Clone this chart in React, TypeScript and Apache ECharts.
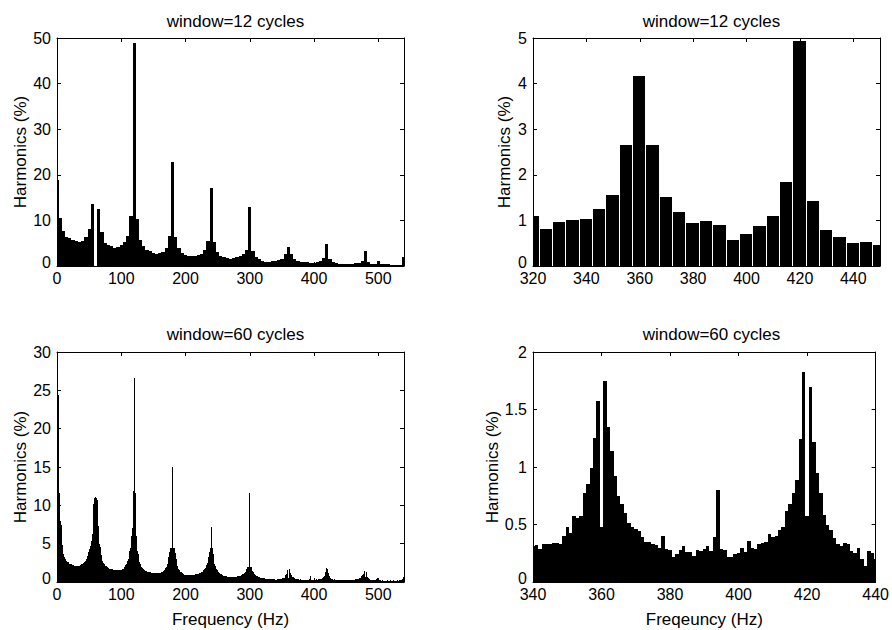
import React, { useEffect, useRef } from "react";
import * as echarts from "echarts";

// ---------- data (harmonic spectra, % of fundamental) ----------
// window = 12 cycles: 5 Hz bins, 0..540 Hz
const TOP_STEP_HZ = 5;
const TOP_HARMONICS = [
  18.8, 10.6, 7.7, 6.4, 6.1, 5.8, 5.4, 5.2, 5.5, 6.4,
  8.2, 13.5, 0, 12.6, 7.4, 5.0, 4.6, 4.3, 4.0, 4.1,
  4.6, 5.3, 6.5, 11.0, 48.9, 10.4, 5.8, 4.3, 3.5, 3.2,
  2.8, 2.6, 2.8, 3.1, 4.0, 6.6, 22.8, 6.4, 4.0, 2.9,
  2.4, 2.2, 2.2, 2.3, 2.5, 2.7, 3.5, 5.4, 17.0, 5.2,
  3.1, 2.3, 1.9, 1.7, 1.6, 1.7, 1.9, 2.2, 2.7, 3.4,
  12.9, 3.2, 2.0, 1.5, 1.09, 0.82, 0.97, 1.0, 1.03, 1.26,
  1.56, 2.66, 4.16, 2.66, 1.51, 1.18, 0.94, 0.98, 0.91, 0.57,
  0.71, 0.88, 1.09, 1.84, 4.93, 1.43, 0.8, 0.63, 0.5, 0.53,
  0.45, 0.45, 0.5, 0.55, 0.7, 1.0, 3.3, 0.9, 0.5, 0.45,
  1.0, 0.4, 0.35, 0.35, 0.3, 0.3, 0.3, 0.3, 2.0,
];

// window = 60 cycles: 1 Hz bins, 0..540 Hz
const BOTTOM_STEP_HZ = 1;
const BOT_000_099 = [
  25.0, 24.8, 24.4, 11.6, 11.2, 8.0, 7.4, 5.4, 4.8, 3.9,
  3.6, 3.2, 3.05, 2.95, 2.75, 2.65, 2.6, 2.55, 2.45, 2.4,
  2.35, 2.3, 2.3, 2.25, 2.2, 2.2, 2.2, 2.15, 2.1, 2.08,
  2.05, 2.05, 2.05, 2.08, 2.1, 2.15, 2.2, 2.25, 2.3, 2.35,
  2.4, 2.45, 2.5, 2.6, 2.75, 2.85, 3.0, 3.4, 3.6, 3.9,
  4.1, 4.3, 4.7, 5.0, 5.3, 6.3, 7.2, 10.2, 11.0, 11.1,
  11.1, 11.0, 10.7, 7.9, 7.3, 5.4, 5.0, 4.6, 3.8, 3.5,
  2.8, 2.6, 2.5, 2.4, 2.2, 2.1, 2.05, 2.0, 1.95, 1.9,
  1.8, 1.75, 1.72, 1.7, 1.68, 1.66, 1.64, 1.62, 1.6, 1.58,
  1.56, 1.55, 1.54, 1.53, 1.52, 1.52, 1.52, 1.53, 1.55, 1.58,
];
const BOT_100_199 = [
  1.6, 1.65, 1.7, 1.75, 1.8, 1.9, 2.1, 2.2, 2.35, 2.6,
  2.8, 3.0, 3.4, 4.1, 4.5, 5.6, 6.0, 7.0, 11.8, 11.9,
  26.6, 11.8, 11.6, 6.0, 5.6, 4.0, 3.6, 3.0, 2.6, 2.4,
  2.2, 2.0, 1.85, 1.75, 1.68, 1.6, 1.55, 1.5, 1.45, 1.4,
  1.36, 1.33, 1.3, 1.28, 1.26, 1.24, 1.22, 1.2, 1.19, 1.18,
  1.17, 1.16, 1.15, 1.15, 1.15, 1.15, 1.15, 1.16, 1.17, 1.18,
  1.2, 1.22, 1.25, 1.28, 1.32, 1.38, 1.45, 1.55, 1.65, 1.78,
  1.95, 2.1, 2.4, 2.8, 3.3, 3.9, 4.3, 4.4, 4.4, 4.4,
  15.0, 4.4, 4.4, 4.3, 3.8, 3.0, 2.5, 2.1, 1.8, 1.65,
  1.55, 1.45, 1.35, 1.28, 1.2, 1.12, 1.05, 1.0, 0.95, 0.92,
];
const BOT_200_299 = [
  0.9, 0.88, 0.87, 0.86, 0.86, 0.85, 0.85, 0.85, 0.86, 0.87,
  0.88, 0.89, 0.9, 0.92, 0.94, 0.96, 0.98, 1.0, 1.02, 1.05,
  1.08, 1.1, 1.13, 1.17, 1.22, 1.28, 1.35, 1.45, 1.55, 1.65,
  1.75, 1.85, 2.0, 2.2, 2.5, 2.8, 3.3, 3.9, 4.4, 4.4,
  7.2, 4.4, 4.3, 3.6, 2.9, 2.4, 2.1, 1.85, 1.7, 1.55,
  1.4, 1.3, 1.2, 1.12, 1.05, 1.0, 0.95, 0.9, 0.86, 0.82,
  0.79, 0.76, 0.74, 0.72, 0.7, 0.69, 0.68, 0.67, 0.66, 0.65,
  0.65, 0.65, 0.64, 0.64, 0.64, 0.65, 0.65, 0.66, 0.67, 0.68,
  0.7, 0.72, 0.74, 0.76, 0.78, 0.8, 0.83, 0.87, 0.92, 0.98,
  1.05, 1.12, 1.2, 1.3, 1.45, 1.65, 1.9, 1.9, 1.9, 1.9,
];
const BOT_300_399 = [
  11.56, 1.9, 1.9, 1.75, 1.5, 1.3, 1.15, 1.0, 0.92, 0.86,
  0.8, 0.75, 0.7, 0.66, 0.63, 0.6, 0.58, 0.56, 0.54, 0.52,
  0.5, 0.48, 0.47, 0.46, 0.45, 0.44, 0.43, 0.42, 0.41, 0.4,
  0.39, 0.38, 0.37, 0.36, 0.35, 0.34, 0.34, 0.33, 0.33, 0.32,
  0.31, 0.32, 0.29, 0.33, 0.33, 0.33, 0.34, 0.34, 0.33, 0.4,
  0.48, 0.43, 0.57, 0.56, 0.57, 0.77, 0.85, 0.99, 1.25, 1.57,
  0.48, 1.75, 1.35, 1.14, 0.92, 0.75, 0.68, 0.6, 0.51, 0.48,
  0.46, 0.44, 0.39, 0.35, 0.35, 0.33, 0.32, 0.3, 0.4, 0.29,
  0.28, 0.22, 0.24, 0.28, 0.31, 0.26, 0.26, 0.23, 0.28, 0.27,
  0.29, 0.31, 0.27, 0.39, 0.8, 0.29, 0.28, 0.22, 0.22, 0.24,
];
const BOT_400_499 = [
  0.25, 0.3, 0.26, 0.36, 0.3, 0.29, 0.33, 0.34, 0.35, 0.42,
  0.39, 0.4, 0.45, 0.48, 0.62, 0.68, 0.77, 0.89, 1.24, 1.83,
  0.57, 1.7, 1.22, 0.95, 0.77, 0.58, 0.5, 0.45, 0.38, 0.33,
  0.31, 0.34, 0.33, 0.27, 0.25, 0.3, 0.2, 0.14, 0.27, 0.25,
  0.2, 0.26, 0.22, 0.28, 0.25, 0.21, 0.27, 0.24, 0.23, 0.26,
  0.22, 0.25, 0.28, 0.24, 0.22, 0.26, 0.25, 0.23, 0.27, 0.24,
  0.25, 0.28, 0.26, 0.3, 0.32, 0.33, 0.35, 0.38, 0.4, 0.42,
  0.45, 0.5, 0.55, 0.62, 0.75, 0.87, 0.9, 1.1, 1.3, 1.4,
  0.6, 1.35, 1.1, 0.7, 0.5, 0.4, 0.35, 0.3, 0.28, 0.26,
  0.24, 0.22, 0.23, 0.2, 0.22, 0.25, 0.3, 0.45, 0.55, 0.3,
];
const BOT_500_540 = [
  0.22, 0.2, 0.18, 0.2, 0.19, 0.17, 0.18, 0.2, 0.16, 0.18,
  0.17, 0.19, 0.16, 0.18, 0.2, 0.17, 0.16, 0.18, 0.2, 0.17,
  0.19, 0.16, 0.18, 0.17, 0.2, 0.18, 0.16, 0.19, 0.17, 0.18,
  0.2, 0.18, 0.22, 0.25, 0.3, 0.25, 0.22, 0.3, 0.45, 0.6,
  0.85,
];
const BOTTOM_HARMONICS = [
  ...BOT_000_099, ...BOT_100_199, ...BOT_200_299,
  ...BOT_300_399, ...BOT_400_499, ...BOT_500_540,
];

// ---------- panel texts / axis ranges ----------
const TITLES = ["window=12 cycles", "window=12 cycles", "window=60 cycles", "window=60 cycles"];
const X_NAMES = ["", "", "Frequency (Hz)", "Freqeuncy (Hz)"];
const Y_NAME = "Harmonics (%)";
const X_RANGES = [[0, 540, 100], [320, 450, 20], [0, 540, 100], [340, 440, 20]];
const Y_RANGES = [[0, 50, 10], [0, 5, 1], [0, 30, 5], [0, 2, 0.5]];

// ---------- layout / style ----------
const GRIDS = [
  { left: 57, top: 38, width: 347, height: 228 },
  { left: 533, top: 38, width: 347, height: 228 },
  { left: 57, top: 352, width: 347, height: 230 },
  { left: 533, top: 352, width: 347, height: 230 },
];
const Y_NAME_GAPS = [27, 20, 27, 32];
const TITLE_TOPS = [8, 8, 321, 321];
const BAR_GAP_PX = [0, 1, 0, 0];
const FONT = '"Liberation Sans", Arial, sans-serif';

function toPairs(values: number[], step: number) {
  return values.map((v, i) => [i * step, v]);
}

function makeRender(binHz: number, gapPx: number) {
  return (params: any, api: any) => {
    const f = api.value(0);
    const v = api.value(1);
    const a = api.coord([f - binHz / 2, v]);
    const b = api.coord([f + binHz / 2, 0]);
    const x0 = Math.round(a[0]);
    let x1 = Math.round(b[0]) - gapPx;
    if (x1 <= x0) x1 = x0 + 1;
    const y0 = Math.round(a[1]);
    const y1 = Math.round(b[1]);
    if (y1 - y0 <= 0) return null;
    const cs = params.coordSys;
    const shape = echarts.graphic.clipRectByRect(
      { x: x0, y: y0, width: x1 - x0, height: y1 - y0 },
      { x: cs.x, y: cs.y, width: cs.width, height: cs.height }
    );
    if (!shape) return null;
    return { type: "rect", shape, style: { fill: "#000" } };
  };
}

function buildOption() {
  const xAxis: any[] = [];
  const yAxis: any[] = [];
  const series: any[] = [];
  const title: any[] = [];
  const axisLine = { show: true, onZero: false, lineStyle: { color: "#000", width: 1 } };
  const axisTick = { show: true, inside: true, length: 4, lineStyle: { color: "#000", width: 1 } };
  const labelText = { fontFamily: FONT, fontSize: 16, color: "#000" };

  for (let i = 0; i < 4; i++) {
    const [xmin, xmax, xint] = X_RANGES[i];
    const [ymin, ymax, yint] = Y_RANGES[i];
    const g = GRIDS[i];
    title.push({
      text: TITLES[i],
      left: g.left + g.width / 2,
      top: TITLE_TOPS[i],
      textAlign: "center",
      textStyle: { fontFamily: FONT, fontSize: 17, fontWeight: "normal", color: "#000" },
    });
    xAxis.push({
      type: "value", gridIndex: i, position: "bottom", min: xmin, max: xmax, interval: xint,
      axisLine, axisTick, splitLine: { show: false },
      axisLabel: {
        show: true, margin: 4, ...labelText,
        showMinLabel: true, showMaxLabel: xmax % xint === 0,
      },
      name: X_NAMES[i], nameLocation: "middle", nameGap: 29,
      nameTextStyle: { fontFamily: FONT, fontSize: 17, color: "#000" },
    });
    xAxis.push({
      type: "value", gridIndex: i, position: "top", min: xmin, max: xmax, interval: xint,
      axisLine, axisTick, splitLine: { show: false }, axisLabel: { show: false },
    });
    yAxis.push({
      type: "value", gridIndex: i, position: "left", min: ymin, max: ymax, interval: yint,
      axisLine, axisTick, splitLine: { show: false },
      axisLabel: {
        show: true, margin: 6, ...labelText,
        formatter: (val: number) => (val === ymin ? "{lo|" + val + "}" : String(val)),
        rich: { lo: { ...labelText, padding: [0, 0, 7, 0] } },
      },
      name: Y_NAME, nameLocation: "middle", nameGap: Y_NAME_GAPS[i], nameRotate: 90,
      nameTextStyle: { fontFamily: FONT, fontSize: 17, color: "#000" },
    });
    yAxis.push({
      type: "value", gridIndex: i, position: "right", min: ymin, max: ymax, interval: yint,
      axisLine, axisTick, splitLine: { show: false }, axisLabel: { show: false },
    });
    const isTop = i < 2;
    series.push({
      type: "custom",
      xAxisIndex: 2 * i,
      yAxisIndex: 2 * i,
      renderItem: makeRender(isTop ? TOP_STEP_HZ : BOTTOM_STEP_HZ, BAR_GAP_PX[i]),
      data: isTop ? toPairs(TOP_HARMONICS, TOP_STEP_HZ) : toPairs(BOTTOM_HARMONICS, BOTTOM_STEP_HZ),
      encode: { x: 0, y: 1 },
      silent: true,
      z: 1,
    });
  }

  return {
    animation: false,
    backgroundColor: "#fff",
    title,
    grid: GRIDS.map((g) => ({ ...g, containLabel: false })),
    xAxis,
    yAxis,
    series,
  };
}

export default function App() {
  const ref = useRef<HTMLDivElement>(null);
  useEffect(() => {
    if (!ref.current) return;
    const chart = echarts.init(ref.current, undefined, { renderer: "svg" });
    chart.setOption(buildOption() as any);
    return () => chart.dispose();
  }, []);
  return (
    <div
      ref={ref}
      style={{ position: "absolute", left: 0, top: 0, width: 892, height: 630, background: "#fff" }}
    />
  );
}
